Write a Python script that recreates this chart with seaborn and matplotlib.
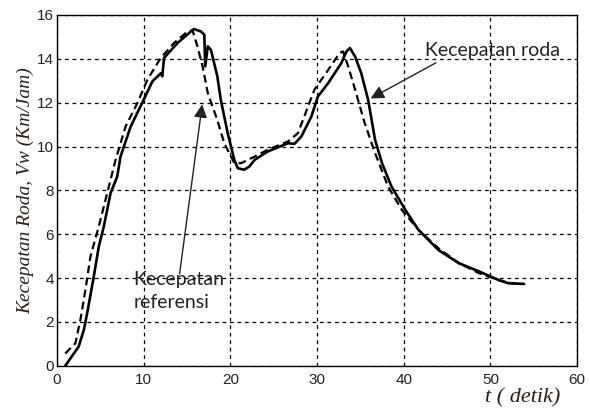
import matplotlib
matplotlib.use("Agg")
import matplotlib.pyplot as plt
import seaborn as sns
import pandas as pd

# Kecepatan roda (solid)
t_roda = [0.96, 2.5, 3.1, 3.55, 4.24, 4.82, 5.4, 6.18, 6.95, 7.33, 8.49, 10.0, 11.0, 12.0, 12.15,
          12.35, 13.9, 15.45, 15.8, 16.6, 17.0, 17.1, 17.4, 17.76, 18.5, 18.9, 19.7, 20.46, 20.86,
          21.6, 22.2, 22.8, 24.3, 26.65, 27.4, 28.2, 29.35, 30.1, 31.3, 32.8, 33.4, 33.8, 34.4,
          35.1, 35.9, 36.7, 37.5, 38.6, 40.2, 41.7, 44.0, 46.35, 48.7, 51.0, 52.1, 53.9]
v_roda = [0.0, 0.87, 1.63, 2.54, 4.06, 5.43, 6.35, 7.87, 8.63, 9.54, 10.9, 12.13, 12.97, 13.35, 13.2,
          14.04, 14.72, 15.25, 15.36, 15.25, 15.1, 13.65, 14.57, 14.41, 13.2, 12.13, 10.6, 9.39, 9.01,
          8.94, 9.09, 9.39, 9.77, 10.15, 10.12, 10.46, 11.37, 12.28, 12.9, 13.8, 14.34, 14.49, 14.1,
          13.35, 12.13, 10.3, 9.24, 8.17, 7.1, 6.2, 5.28, 4.68, 4.3, 3.9, 3.76, 3.73]

# Kecepatan referensi (dashed)
t_ref = [0.96, 2.12, 2.7, 3.28, 3.86, 4.82, 5.79, 6.76, 7.91, 9.27, 10.43, 11.97, 13.5, 15.06,
         15.64, 16.2, 16.8, 17.4, 18.5, 19.3, 20.46, 21.24, 22.8, 24.3, 26.65, 27.8, 29.7, 31.3,
         32.6, 33.0, 33.6, 34.4, 35.5, 36.7, 38.2, 39.8, 41.7, 44.0, 46.35, 48.7, 51.0, 52.5, 53.9]
v_ref = [0.56, 1.02, 2.09, 3.46, 4.98, 6.35, 7.87, 9.39, 10.91, 11.98, 13.05, 14.04, 14.72, 15.25,
         15.3, 14.57, 13.65, 12.44, 11.2, 10.15, 9.24, 9.24, 9.54, 9.85, 10.23, 10.61, 12.59, 13.5,
         14.26, 14.34, 13.65, 12.59, 11.07, 9.7, 8.17, 7.1, 6.2, 5.36, 4.68, 4.22, 3.9, 3.76, 3.73]

x_ticks = [0, 10, 20, 30, 40, 50, 60]
y_ticks = [0, 2, 4, 6, 8, 10, 12, 14, 16]

df_roda = pd.DataFrame({"t": t_roda, "v": v_roda})
df_ref = pd.DataFrame({"t": t_ref, "v": v_ref})

sns.set_theme(style="white")
plt.rcParams['font.family'] = ['Liberation Sans', 'DejaVu Sans']

fig = plt.figure(figsize=(5.9, 4.12), dpi=100)
ax = fig.add_axes([0.0966, 0.1124, 0.8814, 0.8512])

sns.lineplot(data=df_ref, x="t", y="v", ax=ax, color="black", linewidth=1.6,
             linestyle=(0, (3.5, 2)), sort=False)
sns.lineplot(data=df_roda, x="t", y="v", ax=ax, color="black", linewidth=1.9, sort=False)

ax.set_xlim(0, 60)
ax.set_ylim(0, 16)
ax.set_xticks(x_ticks)
ax.set_yticks(y_ticks)
txtc = "#222222"
ax.tick_params(axis="both", direction="in", length=3, width=0.8, colors="black",
               labelsize=11, labelcolor=txtc)
ax.tick_params(axis="x", pad=5)
ax.tick_params(axis="y", pad=2)
for s in ax.spines.values():
    s.set_color("black")
    s.set_linewidth(1.0)
ax.grid(True, color="black", linestyle=(0, (3, 3)), linewidth=0.9)
ax.set_xlabel("")
ax.set_ylabel("Kecepatan Roda, Vw (Km/Jam)", family="Liberation Serif", style="italic",
              fontsize=14, color="#2a2018", labelpad=2)
fig.text(0.949, 0.012, "t ( detik)", family="Liberation Serif", style="italic",
         fontsize=16, color="#2a2018", ha="right", va="bottom")

ax.annotate("", xy=(35.9, 12.13), xytext=(44.0, 13.88),
            arrowprops=dict(arrowstyle="-|>", color="#222222", lw=1.0, mutation_scale=20))
ax.text(50.2, 14.4, "Kecepatan roda", family="Lato", fontsize=14, color=txtc,
        ha="center", va="center")

ax.annotate("", xy=(16.8, 12.05), xytext=(14.1, 4.06),
            arrowprops=dict(arrowstyle="-|>", color="#222222", lw=1.0, mutation_scale=20))
ax.text(8.84, 4.3, "Kecepatan\nreferensi", family="Lato", fontsize=14, color=txtc,
        ha="left", va="top", linespacing=1.4)

fig.savefig("out.png", dpi=100)
